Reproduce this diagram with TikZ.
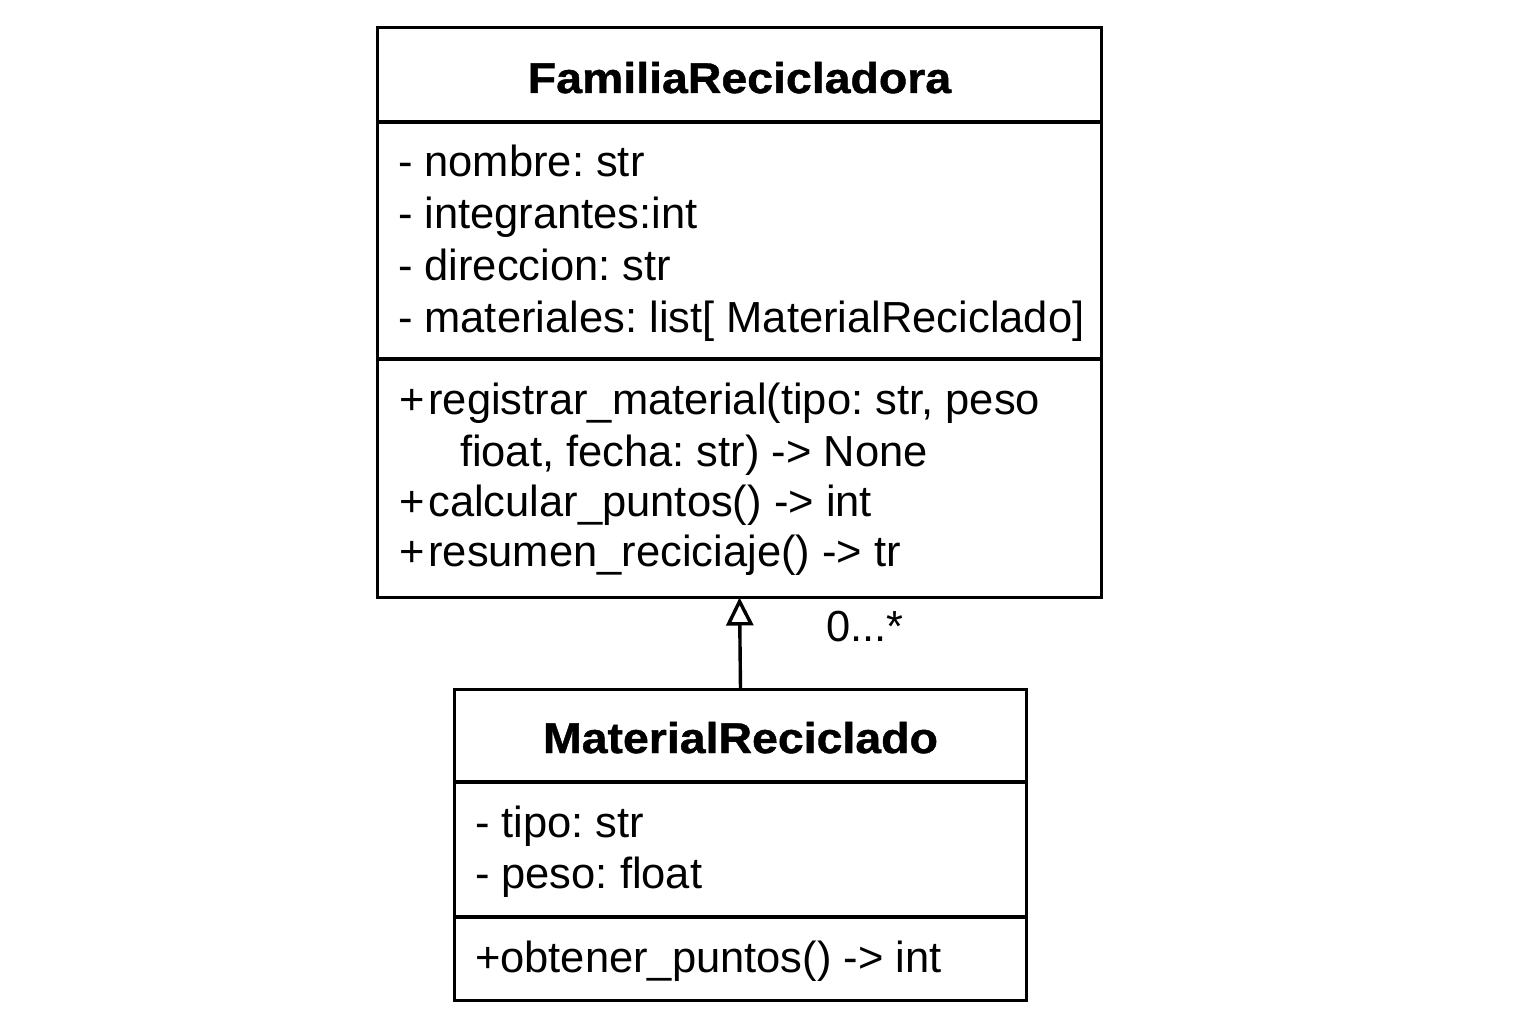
\documentclass[tikz,border=0pt]{standalone}
\usepackage{fontspec}
\setmainfont{Liberation Sans}
\newfontfamily\ttlfont{Liberation Sans}[FakeStretch=1.08, FakeBold=1]
\usetikzlibrary{arrows.meta}
\frenchspacing
\begin{document}
\begin{tikzpicture}[x=1pt,y=-1pt,
  box/.style={draw=black, line width=3.6pt, rectangle, inner sep=0pt, outer sep=0pt},
  txt/.style={anchor=base west, inner sep=0pt, outer sep=0pt, font=\fontsize{43.5}{52}\selectfont\frenchspacing},
  ttl/.style={anchor=base, inner sep=0pt, outer sep=0pt, font=\fontsize{43}{50}\ttlfont\bfseries},
  div/.style={line width=3.6pt},
  gen/.style={line width=3.4pt, -{Triangle[open, length=28pt, width=27pt, line width=3.4pt]}}]
\useasboundingbox (0,0) rectangle (1536,1024);
\fill[white] (0,0) rectangle (1536,1024);
% FamiliaRecicladora
\node[box, minimum width=724pt, minimum height=570pt] (fam) at (739.5,312.5) {};
\draw[div] (377.5,122) -- (1101.5,122);
\draw[div] (377.5,359) -- (1101.5,359);
\node[ttl] (famt) at (739.5,93) {FamiliaRecicladora};
\node[txt] (fa1) at (398,177) {- nombre: str};
\node[txt] (fa2) at (398,228.5) {- integrantes:int};
\node[txt] (fa3) at (398,280) {- direccion: str};
\node[txt] (fa4) at (398,332) {- materiales: list[ MaterialReciclado]};
\node[txt] (fm1) at (399,414) {+\kern4pt registrar\_material(tipo: str, peso};
\node[txt] (fm1b) at (460,466) {fioat, fecha: str) -> None};
\node[txt] (fm2) at (399,516.5) {+\kern4pt calcular\_puntos() -> int};
\node[txt] (fm3) at (399,566.5) {+\kern4pt resumen\_reciciaje() -> tr};
% MaterialReciclado
\node[box, minimum width=572pt, minimum height=311pt] (mat) at (740.5,845) {};
\draw[div] (454.5,782) -- (1026.5,782);
\draw[div] (454.5,917) -- (1026.5,917);
\node[ttl] (matt) at (740.5,753) {MaterialReciclado};
\node[txt] (ma1) at (475,837) {- tipo: str};
\node[txt] (ma2) at (475,888) {- peso: float};
\node[txt] (mm1) at (475,972.5) {+obtener\_puntos() -> int};
% connector
\draw[gen] (mat.north) -- (fam.south);
\node[txt] (mult) at (826,641.5) {0...*};
\end{tikzpicture}
\end{document}
